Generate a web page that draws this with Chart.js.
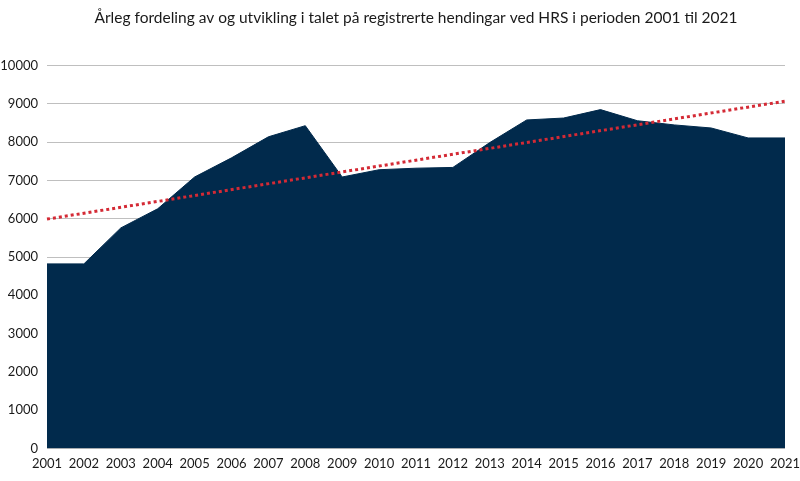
<!DOCTYPE html>
<html>
<head>
<meta charset="utf-8">
<script src="https://cdn.jsdelivr.net/npm/chart.js@4"></script>
<style>
html,body{margin:0;padding:0;background:#fff;}
#wrap{width:800px;height:481px;position:relative;}
</style>
</head>
<body>
<div id="wrap"><canvas id="c"></canvas></div>
<script>
const years = ['2001','2002','2003','2004','2005','2006','2007','2008','2009','2010','2011','2012','2013','2014','2015','2016','2017','2018','2019','2020','2021'];
const incidents = [4820,4820,5760,6260,7090,7590,8140,8430,7090,7280,7320,7340,7990,8580,8630,8850,8560,8450,8370,8110,8110];
const trendStart = 5990;
const trendEnd = 9070;
const yTicks = [0,1000,2000,3000,4000,5000,6000,7000,8000,9000,10000];
const titleText = 'Årleg fordeling av og utvikling i talet på registrerte hendingar ved HRS i perioden 2001 til 2021';

const trendData = years.map((y,i)=> i===0 ? trendStart : (i===years.length-1 ? trendEnd : null));

new Chart(document.getElementById('c'), {
  type: 'line',
  data: {
    labels: years,
    datasets: [
      {
        label: 'Hendingar',
        data: incidents,
        fill: 'origin',
        backgroundColor: '#012a4c',
        borderColor: '#012a4c',
        borderWidth: 1,
        pointRadius: 0,
        tension: 0,
        order: 2
      },
      {
        label: 'Trend',
        data: trendData,
        spanGaps: true,
        fill: false,
        borderColor: '#d42a35',
        borderWidth: 3,
        borderDash: [3,3],
        pointRadius: 0,
        tension: 0,
        order: 1
      }
    ]
  },
  options: {
    responsive: true,
    maintainAspectRatio: false,
    animation: false,
    layout: { padding: { left: 0, right: 0, top: 0, bottom: 1 } },
    plugins: {
      legend: { display: false },
      tooltip: { enabled: false },
      title: {
        display: true,
        fullSize: false,
        text: titleText,
        color: '#1a1a1a',
        font: { family: 'Lato', size: 15.5, weight: 'normal' },
        padding: { top: 9, bottom: 38 }
      }
    },
    scales: {
      x: {
        offset: false,
        grid: { display: false, drawTicks: false },
        border: { display: false },
        afterFit: (s) => { s.paddingRight = 15; s.paddingLeft = 0; },
        ticks: {
          color: '#1a1a1a',
          font: { family: 'Lato', size: 13 },
          maxRotation: 0,
          autoSkip: false,
          padding: 8
        }
      },
      y: {
        min: 0,
        max: 10000,
        afterBuildTicks: (s) => { s.ticks = yTicks.map(v => ({ value: v })); },
        afterFit: (s) => { s.width = 47; },
        grid: { color: '#bfbfbf', lineWidth: 1, drawTicks: false },
        border: { display: false },
        ticks: {
          color: '#1a1a1a',
          font: { family: 'Lato', size: 13 },
          padding: 9,
          callback: (v) => String(v)
        }
      }
    }
  }
});
</script>
</body>
</html>
